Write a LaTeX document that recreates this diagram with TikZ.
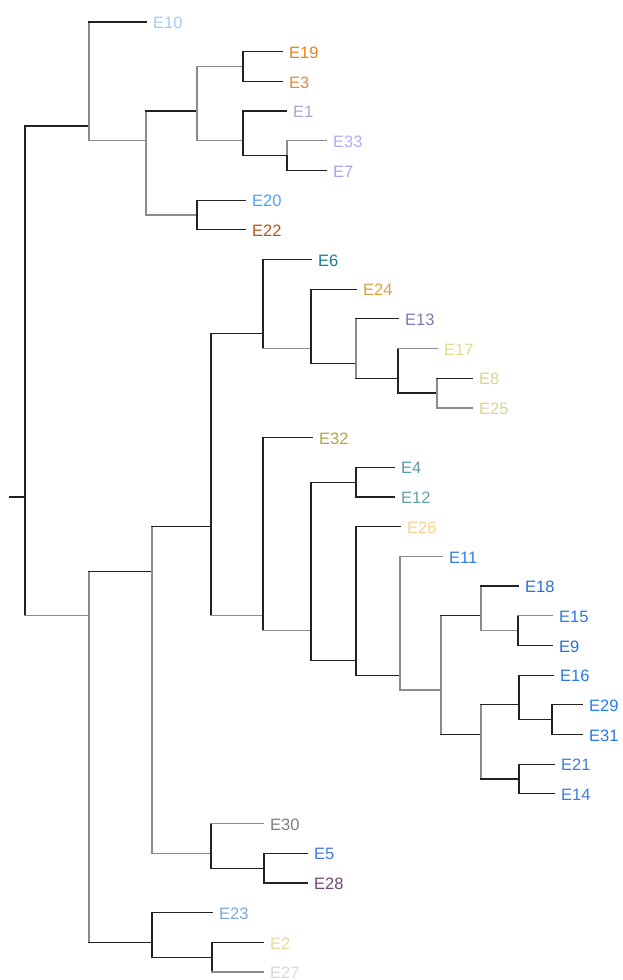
\documentclass[tikz,border=0pt]{standalone}
\usepackage{fontspec}
\setmainfont{Liberation Sans}
\usetikzlibrary{calc}
\definecolor{dk}{HTML}{222222}
\definecolor{gr}{HTML}{8C8C8C}
\tikzset{
  dkl/.style={draw=dk, line width=1.2pt, line cap=rect},
  grl/.style={draw=gr, line width=1.2pt, line cap=rect},
  lab/.style={anchor=west, inner sep=0pt, font=\fontsize{16.5}{18}\selectfont, yshift=-1pt}
}
\newcommand\inode[3]{\coordinate (#1) at (#2, {22+29.6875*#3});}
\newcommand\leaf[4]{\definecolor{c#1}{HTML}{#4}\coordinate (#1) at (#2, {22+29.6875*#3});
  \node[lab, text=c#1] (#1-l) at ([xshift=7pt]#1) {#1};}
\newcommand\edge[4]{\draw[#3] (#1) -- (#1 |- #2); \draw[#4] (#1 |- #2) -- (#2);}
\begin{document}
\begin{tikzpicture}[x=1pt,y=-1pt]
\useasboundingbox (0,0) rectangle (622,980);
% internal nodes
\inode{R}{25}{16}
\coordinate (S) at (10, {22+29.6875*16});
\inode{A}{89}{3.5}
\inode{B}{146}{4}
\inode{C}{197}{3}
\inode{C1}{243}{1.5}
\inode{C2}{243}{4}
\inode{C3}{287}{4.5}
\inode{D}{197}{6.5}
\inode{F}{89}{20}
\inode{G}{152}{18.5}
\inode{I}{211}{17}
\inode{K}{263}{10.5}
\inode{K1}{311}{11}
\inode{K2}{356}{11.5}
\inode{K3}{398}{12}
\inode{K4}{437}{12.5}
\inode{L}{263}{20}
\inode{L1}{311}{20.5}
\inode{L2}{356}{15.5}
\inode{L3}{356}{21.5}
\inode{L4}{400}{22}
\inode{L5}{441}{22.5}
\inode{L6}{481}{20}
\inode{L8}{518}{20.5}
\inode{L7}{481}{24}
\inode{L9}{519}{23}
\inode{L10}{552}{23.5}
\inode{L11}{519}{25.5}
\inode{J}{211}{28}
\inode{J1}{264}{28.5}
\inode{H}{152}{31}
\inode{H1}{212}{31.5}
% leaves
\leaf{E10}{146}{0}{9FCDFA}
\leaf{E19}{282}{1}{E8801E}
\leaf{E3}{282}{2}{E8883A}
\leaf{E1}{286}{3}{A6A6D6}
\leaf{E33}{326}{4}{B4ACF4}
\leaf{E7}{326}{5}{AAA2F0}
\leaf{E20}{245}{6}{55A0F5}
\leaf{E22}{245}{7}{B5561A}
\leaf{E6}{311}{8}{1A8090}
\leaf{E24}{356}{9}{E0A040}
\leaf{E13}{398}{10}{7A7AB8}
\leaf{E17}{437}{11}{E2DC8C}
\leaf{E8}{472}{12}{DCD68C}
\leaf{E25}{472}{13}{DCD68C}
\leaf{E32}{312}{14}{B0A840}
\leaf{E4}{394}{15}{5A9AA2}
\leaf{E12}{394}{16}{66A0A8}
\leaf{E26}{400}{17}{FFCF8A}
\leaf{E11}{442}{18}{2C80E4}
\leaf{E18}{518}{19}{2A70D8}
\leaf{E15}{552}{20}{2C78E0}
\leaf{E9}{552}{21}{2A70D8}
\leaf{E16}{553}{22}{2A78E0}
\leaf{E29}{582}{23}{2A80E8}
\leaf{E31}{582}{24}{2A78E0}
\leaf{E21}{554}{25}{3A7EE0}
\leaf{E14}{554}{26}{3A7EE0}
\leaf{E30}{263}{27}{857C78}
\leaf{E5}{307}{28}{4878E0}
\leaf{E28}{307}{29}{74486E}
\leaf{E23}{212}{30}{7AA8E0}
\leaf{E2}{263}{31}{E0DCA0}
\leaf{E27}{263}{32}{D8D8D8}
% edges
\draw[dkl] (S) -- (R);
\edge{R}{A}{dkl}{dkl}
\edge{R}{F}{dkl}{grl}
\edge{A}{E10}{grl}{dkl}
\edge{A}{B}{grl}{grl}
\edge{B}{C}{grl}{dkl}
\edge{B}{D}{grl}{grl}
\edge{C}{C1}{grl}{grl}
\edge{C}{C2}{grl}{grl}
\edge{C1}{E19}{dkl}{dkl}
\edge{C1}{E3}{dkl}{dkl}
\edge{C2}{E1}{dkl}{dkl}
\edge{C2}{C3}{dkl}{dkl}
\edge{C3}{E33}{grl}{grl}
\edge{C3}{E7}{dkl}{dkl}
\edge{D}{E20}{dkl}{dkl}
\edge{D}{E22}{dkl}{dkl}
\edge{F}{G}{grl}{dkl}
\edge{F}{H}{grl}{dkl}
\edge{G}{I}{grl}{dkl}
\edge{G}{J}{grl}{grl}
\edge{I}{K}{dkl}{dkl}
\edge{I}{L}{dkl}{grl}
\edge{K}{E6}{dkl}{dkl}
\edge{K}{K1}{dkl}{grl}
\edge{K1}{E24}{dkl}{dkl}
\edge{K1}{K2}{dkl}{dkl}
\edge{K2}{E13}{grl}{dkl}
\edge{K2}{K3}{grl}{dkl}
\edge{K3}{E17}{dkl}{grl}
\edge{K3}{K4}{dkl}{dkl}
\edge{K4}{E8}{grl}{dkl}
\edge{K4}{E25}{grl}{grl}
\edge{L}{E32}{dkl}{dkl}
\edge{L}{L1}{dkl}{grl}
\edge{L1}{L2}{dkl}{dkl}
\edge{L1}{L3}{dkl}{dkl}
\edge{L2}{E4}{dkl}{dkl}
\edge{L2}{E12}{dkl}{dkl}
\edge{L3}{E26}{dkl}{dkl}
\edge{L3}{L4}{dkl}{dkl}
\edge{L4}{E11}{grl}{grl}
\edge{L4}{L5}{grl}{grl}
\edge{L5}{L6}{grl}{dkl}
\edge{L5}{L7}{grl}{dkl}
\edge{L6}{E18}{grl}{dkl}
\edge{L6}{L8}{grl}{grl}
\edge{L8}{E15}{dkl}{grl}
\edge{L8}{E9}{dkl}{dkl}
\edge{L7}{L9}{grl}{dkl}
\edge{L7}{L11}{grl}{dkl}
\edge{L9}{E16}{dkl}{dkl}
\edge{L9}{L10}{dkl}{dkl}
\edge{L10}{E29}{dkl}{dkl}
\edge{L10}{E31}{dkl}{dkl}
\edge{L11}{E21}{dkl}{dkl}
\edge{L11}{E14}{dkl}{dkl}
\edge{J}{E30}{dkl}{grl}
\edge{J}{J1}{dkl}{dkl}
\edge{J1}{E5}{dkl}{dkl}
\edge{J1}{E28}{dkl}{dkl}
\edge{H}{E23}{dkl}{dkl}
\edge{H}{H1}{dkl}{dkl}
\edge{H1}{E2}{dkl}{dkl}
\edge{H1}{E27}{dkl}{grl}
\end{tikzpicture}
\end{document}
